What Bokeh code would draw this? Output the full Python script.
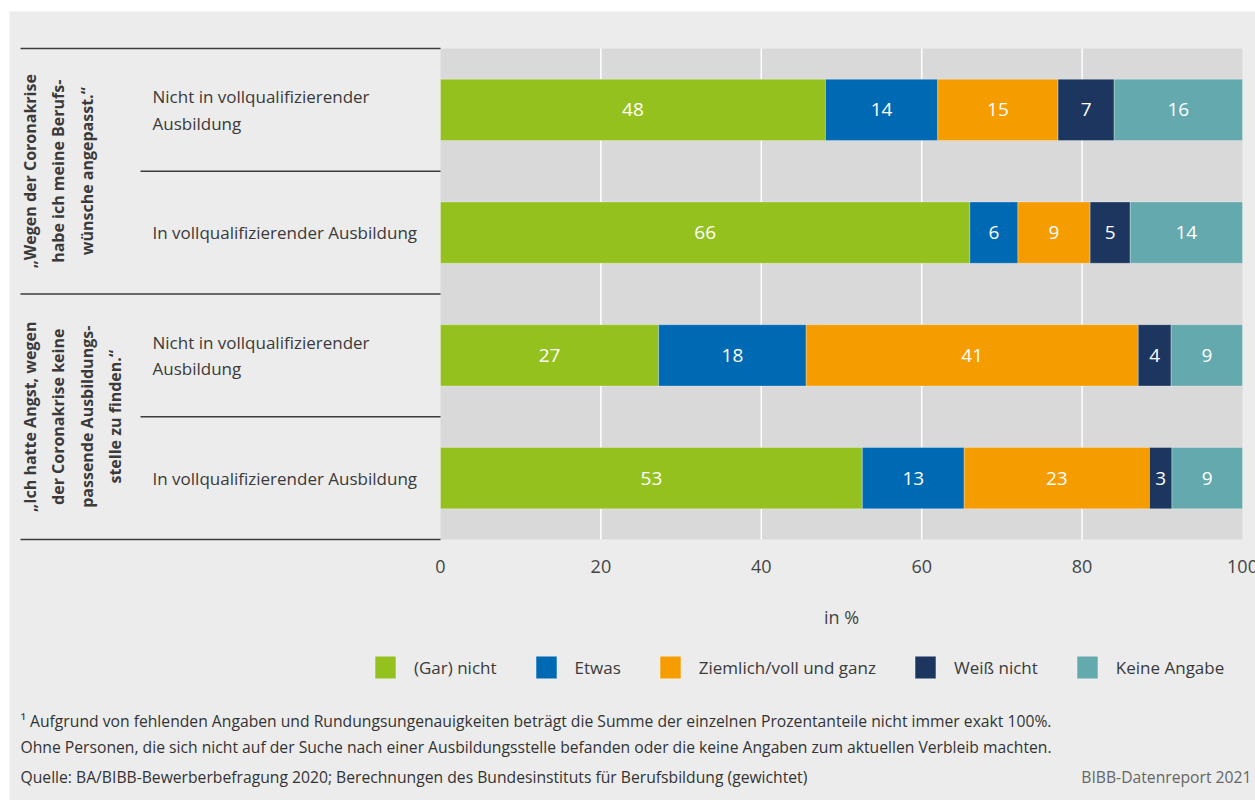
import numpy as np
from bokeh.plotting import figure
from bokeh.models import ColumnDataSource, Legend, LegendItem, Range1d
from bokeh.core.properties import value
from bokeh.embed import file_html
from bokeh.resources import INLINE

# ---------------- data ----------------
categories = ["(Gar) nicht", "Etwas", "Ziemlich/voll und ganz", "Weiß nicht", "Keine Angabe"]
colors = ["#95c11f", "#0069b4", "#f59c00", "#1d3660", "#64a9ad"]
row_labels = ["Nicht in vollqualifizierender\nAusbildung",
              "In vollqualifizierender Ausbildung",
              "Nicht in vollqualifizierender\nAusbildung",
              "In vollqualifizierender Ausbildung"]
group_labels = ["„Wegen der Coronakrise\nhabe ich meine Berufs-\nwünsche angepasst.“",
                "„Ich hatte Angst, wegen\nder Coronakrise keine\npassende Ausbildungs-\nstelle zu finden.“"]
gar_nicht = [48, 66, 27.2, 52.6]
etwas = [14, 6, 18.4, 12.7]
ziemlich = [15, 9, 41.4, 23.1]
weiss_nicht = [7, 5, 4.1, 2.8]
keine_angabe = [16, 14, 8.9, 8.8]
x_ticks = [0, 20, 40, 60, 80, 100]
x_title = "in %"
footnotes = ["¹ Aufgrund von fehlenden Angaben und Rundungsungenauigkeiten beträgt die Summe der einzelnen Prozentanteile nicht immer exakt 100%.",
             "Ohne Personen, die sich nicht auf der Suche nach einer Ausbildungsstelle befanden oder die keine Angaben zum aktuellen Verbleib machten.",
             "Quelle: BA/BIBB-Bewerberbefragung 2020; Berechnungen des Bundesinstituts für Berufsbildung (gewichtet)"]
credit = "BIBB-Datenreport 2021"

# ---------------- layout (pixel geometry of the page) ----------------
FONT = "Open Sans"
TXT = "#3a3a3a"
W, H = 1255, 800
FL, FT = 9, 11                 # frame (light grey panel) top-left corner
X0_PX, X100_PX = 440, 1242     # pixel position of 0 % and 100 %
PLOT_TOP_PX, PLOT_BOT_PX = 48, 539
n_rows = len(row_labels)
ppx = (X100_PX - X0_PX) / 100.0
ppy = (PLOT_BOT_PX - PLOT_TOP_PX) / n_rows


def px(xp):
    return (xp - X0_PX) / ppx


def py(yp):
    return (PLOT_BOT_PX - yp) / ppy


ys = [n_rows - 0.5 - i for i in range(n_rows)]

p = figure(width=W, height=H, output_backend="svg", toolbar_location=None,
           x_range=Range1d(px(FL), px(W)), y_range=Range1d(py(H), py(FT)),
           min_border_left=FL, min_border_right=0, min_border_top=FT, min_border_bottom=0,
           x_axis_location=None, y_axis_location=None)
p.border_fill_color = "white"
p.background_fill_color = "#ececec"
p.outline_line_color = None
p.grid.grid_line_color = None

# grey plot area and white grid lines
p.quad(left=[x_ticks[0]], right=[x_ticks[-1]], bottom=[0], top=[n_rows],
       fill_color="#d9d9d9", line_color=None)
p.segment(x0=x_ticks[1:-1], x1=x_ticks[1:-1], y0=[0] * 4, y1=[n_rows] * 4,
          line_color="white", line_width=1.5)

# stacked bars
series = [gar_nicht, etwas, ziemlich, weiss_nicht, keine_angabe]
arr = np.array(series, dtype=float)
rights = np.cumsum(arr, axis=0)
lefts = np.vstack([np.zeros(n_rows), rights[:-1]])
items = []
for k, name in enumerate(categories):
    src = ColumnDataSource(dict(y=ys, left=lefts[k], right=rights[k],
                                mid=(lefts[k] + rights[k]) / 2,
                                lab=["%.0f" % v for v in arr[k]]))
    r = p.hbar(y="y", left="left", right="right", height=0.5, source=src,
               fill_color=colors[k], line_color="white", line_alpha=0.3, line_width=1)
    p.text(x="mid", y="y", text="lab", source=src, text_color="white",
           text_align="center", text_baseline="middle", text_font_size="19px",
           text_font=value(FONT))
    items.append(LegendItem(label=name, renderers=[r]))

# separator lines for groups and rows
sep_y = [n_rows - i for i in range(n_rows + 1)]
sep_x0 = [px(20) if i % 2 == 0 else px(140) for i in range(n_rows + 1)]
p.segment(x0=sep_x0, y0=sep_y, x1=[0] * len(sep_y), y1=sep_y, line_color="#3c3c3c", line_width=1.5)

# row labels
p.text(x=[px(152)] * n_rows, y=ys, text=row_labels, text_color=TXT,
       text_align="left", text_baseline="middle", text_font_size="17px",
       text_line_height=1.15, text_font=value(FONT))

# group labels (rotated)
group_y = [n_rows - 1, n_rows - 3]
p.text(x=[px(18)] * 2, y=group_y, text=group_labels, angle=np.pi / 2,
       text_color=TXT, text_align="center", text_baseline="top", text_font_size="16px",
       text_font_style="bold", text_line_height=1.3, text_font=value(FONT))

# x tick labels and title
p.text(x=x_ticks, y=[py(566)] * len(x_ticks), text=[str(t) for t in x_ticks],
       text_color="#444444", text_align="center", text_baseline="middle",
       text_font_size="18px", text_font=value(FONT))
p.text(x=[50], y=[py(616)], text=[x_title], text_color="#444444", text_align="center",
       text_baseline="middle", text_font_size="18px", text_font=value(FONT))

# legend
legend = Legend(items=items, orientation="horizontal", location=(372 - FL, H - 681),
                glyph_width=26, glyph_height=28, label_standoff=16, spacing=36,
                label_text_font_size="17px", label_text_color=TXT, label_text_font=FONT,
                background_fill_alpha=0, border_line_color=None, padding=0, margin=0)
p.add_layout(legend)

# footnotes
p.text(x=[px(20)] * 3, y=[py(720), py(746), py(776)], text=footnotes, text_color="#333333",
       text_align="left", text_baseline="middle", text_font_size="15.7px", text_font=value(FONT))
p.text(x=[px(1251)], y=[py(776)], text=[credit], text_color="#666666", text_align="right",
       text_baseline="middle", text_font_size="15.7px", text_font=value(FONT))

open("out.html", "w").write(file_html(p, INLINE))
